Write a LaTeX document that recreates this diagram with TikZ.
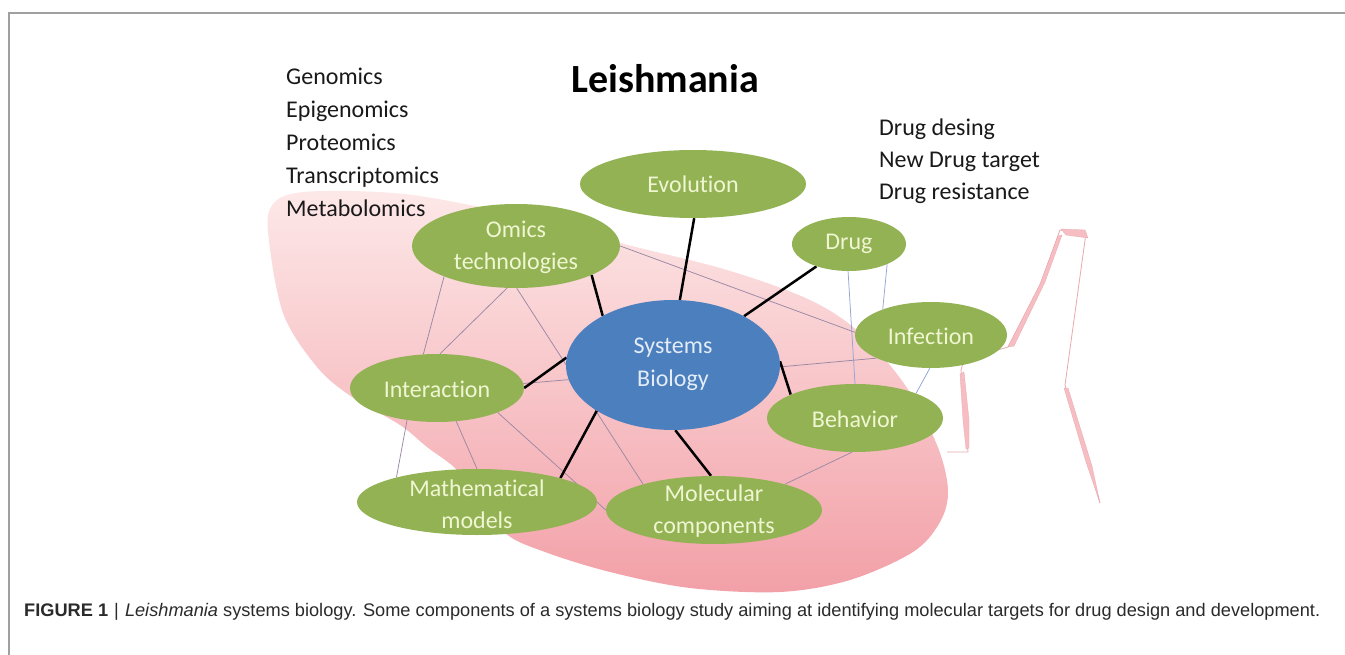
\documentclass[tikz,border=0pt]{standalone}
\usepackage{fontspec}
\usepackage{graphicx}
\setmainfont{Carlito}[Ligatures=NoCommon]
\newfontfamily\capfont{Liberation Sans}
\usetikzlibrary{shapes.geometric}
\pgfdeclarelayer{background}
\pgfsetlayers{background,main}

\definecolor{leafgreen}{HTML}{92B254}
\definecolor{leaftext}{HTML}{F0F6D2}
\definecolor{coreblue}{HTML}{4B7FBE}
\definecolor{coretext}{HTML}{E4ECF7}
\definecolor{blobtop}{HTML}{FDE8E8}
\definecolor{blobbottom}{HTML}{F2A0A7}
\definecolor{ribbon}{HTML}{F6BEC3}
\definecolor{ribbonline}{HTML}{E9A7AE}
\definecolor{weblink}{HTML}{9A88A4}
\definecolor{weblinkb}{HTML}{93A3D6}
\definecolor{framegray}{HTML}{A0A0A0}
\definecolor{captext}{HTML}{2A2A2A}

\tikzset{
  leaf/.style={ellipse, fill=leafgreen, inner sep=0pt},
  core/.style={ellipse, fill=coreblue, inner sep=0pt},
  leaflabel/.style={text=leaftext, font=\fontsize{24}{32}\selectfont, align=center, inner sep=0pt},
  corelabel/.style={text=coretext, font=\fontsize{24}{33}\selectfont, align=center, inner sep=0pt},
  listitem/.style={anchor=base west, font=\fontsize{24}{29}\selectfont, text=black!90, inner sep=0pt},
  spoke/.style={draw=black, line width=2.5pt},
  web/.style={draw=weblink, line width=0.75pt},
  webb/.style={draw=weblinkb, line width=0.75pt},
  ribbonfill/.style={fill=ribbon, draw=ribbonline, line width=0.3pt},
}

\begin{document}
\begin{tikzpicture}[x=1pt, y=-1pt]
\useasboundingbox (0,0) rectangle (1345,655);

% figure frame (open on the right and bottom)
\draw[framegray, line width=1.2pt] (9,655) -- (9,13) -- (1345,13);

% the pink cell body with its flagellum
\begin{pgfonlayer}{background}
\shade[top color=blobtop, bottom color=blobbottom]
  plot[smooth cycle, tension=0.55] coordinates {
    (268,232) (273,204) (296,193) (350,191) (420,196) (520,216) (620,243)
    (727,270) (810,300) (860,333) (905,385) (937,445) (948,490) (940,522)
    (913,552) (850,580) (780,592) (690,588) (610,572) (545,552) (505,533)
    (470,490) (455,468) (427,447) (400,425) (352,397) (317,367) (283,313)};
\draw[ribbonline, line width=0.8pt, line join=round]
  (947,452) -- (968,452) -- (964,400) -- (961,370) -- (964,360) -- (1008,347)
  -- (1040,285) -- (1060,230) -- (1086,233) -- (1065,385) -- (1100,503);
\fill[ribbonfill] (960,374) -- (964,372) -- (969,420) -- (969,448) -- (966,449) -- (963,420) -- cycle;
\fill[ribbonfill] (1008,347) -- (1040,284) -- (1058,236) -- (1062,235) -- (1045,282) -- (1014,346) -- cycle;
\fill[ribbonfill] (1061,229) -- (1085,230) -- (1088,238) -- (1066,235) -- cycle;
\fill[ribbonfill] (1064,388) -- (1068,388) -- (1092,466) -- (1100,503) -- (1086,462) -- cycle;
\end{pgfonlayer}

% headings and lists
\node[anchor=base, font=\fontsize{40}{44}\selectfont\bfseries, inner sep=0pt] (title) at (665,93) {Leishmania};
\node[listitem] (om1) at (286,85)  {Genomics};
\node[listitem] (om2) at (286,118) {Epigenomics};
\node[listitem] (om3) at (286,151) {Proteomics};
\node[listitem] (om4) at (286,184) {Transcriptomics};
\node[listitem] (om5) at (286,217) {Metabolomics};
\node[listitem] (dr1) at (879,136) {Drug desing};
\node[listitem] (dr2) at (879,168) {New Drug target};
\node[listitem] (dr3) at (879,200) {Drug resistance};

% ellipses of the network
\node[leaf, minimum width=226pt, minimum height=68pt]  (evo)    at (693,184) {};
\node[leaf, minimum width=114pt, minimum height=54pt]  (drug)   at (849,244) {};
\node[leaf, minimum width=208pt, minimum height=84pt]  (omics)  at (516,246) {};
\node[core, minimum width=214pt, minimum height=130pt] (sys)    at (673,365) {};
\node[leaf, minimum width=152pt, minimum height=66pt]  (infect) at (931,335) {};
\node[leaf, minimum width=174pt, minimum height=68pt]  (inter)  at (437,388) {};
\node[leaf, minimum width=176pt, minimum height=68pt]  (behav)  at (855,418) {};
\node[leaf, minimum width=240pt, minimum height=66pt]  (math)   at (477,502) {};
\node[leaf, minimum width=216pt, minimum height=68pt]  (molec)  at (714,510) {};

% their labels
\node[leaflabel] (evoT)    at (693,184) {Evolution};
\node[leaflabel] (drugT)   at (849,244) {Drug};
\node[leaflabel] (omicsT)  at (516,247) {Omics\\technologies};
\node[corelabel] (sysT)    at (673,364) {Systems\\Biology};
\node[leaflabel] (infectT) at (931,336) {Infection};
\node[leaflabel] (interT)  at (437,389) {Interaction};
\node[leaflabel] (behavT)  at (855,419) {Behavior};
\node[leaflabel] (mathT)   at (477,504) {Mathematical\\models};
\node[leaflabel] (molecT)  at (714,511) {Molecular\\components};

% connectors, kept beneath the ellipses
\begin{pgfonlayer}{background}
\draw[web]  (omics.203) -- (inter.112);
\draw[web]  (omics.258) -- (inter.85);
\draw[web]  (omics.271) -- (molec.160);
\draw[web]  (omics.0)   -- (infect.178);
\draw[web]  (inter.227) -- (math.163);
\draw[web]  (inter.300) -- (math.90);
\draw[web]  (inter.338) -- (molec.180);
\draw[web]  (inter.3)   -- (sys.188);
\draw[web]  (sys.359)   -- (infect.203);
\draw[webb] (infect.268) -- (behav.22);
\draw[webb] (drug.268)  -- (behav.90);
\draw[webb] (drug.332)  -- (infect.152);
\draw[web]  (behav.265) -- (molec.20);

\draw[spoke] (omics.339) -- (sys.145);
\draw[spoke] (evo.272)   -- (sys.84);
\draw[spoke] (drug)      -- (sys);
\draw[spoke] (sys.2)     -- (behav.160);
\draw[spoke] (sys.272)   -- (molec.95);
\draw[spoke] (sys.211)   -- (math.16);
\draw[spoke] (inter.0)   -- (sys.176);
\end{pgfonlayer}

% caption
\node[anchor=west, inner sep=0pt, text=captext] (caption) at (24,612)
  {\resizebox{1296pt}{!}{\capfont\fontsize{15}{18}\selectfont\textbf{FIGURE 1}\,\,|\,\,\textit{Leishmania} systems biology. Some components of a systems biology study aiming at identifying molecular targets for drug design and development.}};
\end{tikzpicture}
\end{document}
